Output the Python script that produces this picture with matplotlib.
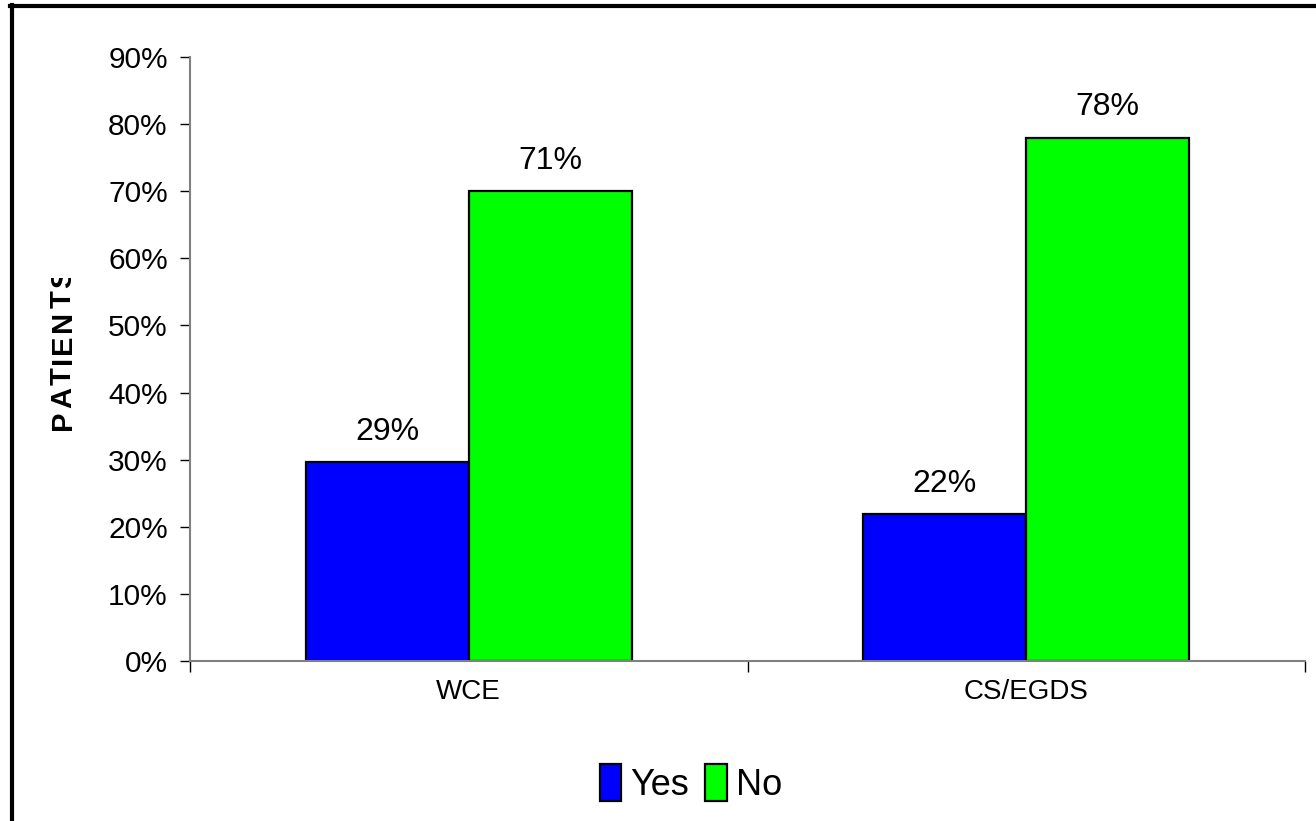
import numpy as np
import matplotlib
matplotlib.use('Agg')
import matplotlib.pyplot as plt
from matplotlib.lines import Line2D
from matplotlib.patches import Rectangle
from matplotlib.ticker import FuncFormatter

# data
categories = ['WCE', 'CS/EGDS']
series_names = ['Yes', 'No']
yes_vals = [29.6, 21.9]
no_vals = [70.0, 78.0]
yes_labels = ['29%', '22%']
no_labels = ['71%', '78%']
colors = ['#0000FF', '#00FF00']
ylabel = 'PATIENTS'

plt.rcParams['font.family'] = ['Liberation Sans', 'DejaVu Sans']

W, H = 1316, 821
fig = plt.figure(figsize=(W/100, H/100), dpi=100)
ax = fig.add_axes([190/W, 1 - 661/H, (1305 - 190)/W, (661 - 57)/H])

x = np.arange(len(categories))
w = 0.292
b1 = ax.bar(x - w/2, yes_vals, w, color=colors[0], edgecolor='black', linewidth=1.6, label=series_names[0])
b2 = ax.bar(x + w/2, no_vals, w, color=colors[1], edgecolor='black', linewidth=1.6, label=series_names[1])

for bars, labs in ((b1, yes_labels), (b2, no_labels)):
    for r, t in zip(bars, labs):
        ax.annotate(t, (r.get_x() + r.get_width()/2, r.get_height()),
                    xytext=(0, 11), textcoords='offset points',
                    ha='center', va='bottom', fontsize=23)

ax.set_ylim(0, 90)
ax.set_yticks(np.arange(0, 91, 10))
ax.yaxis.set_major_formatter(FuncFormatter(lambda v, p: '%d%%' % v))
ax.tick_params(axis='y', labelsize=21.5, length=7, width=1, color='black', direction='out', pad=9)

ax.set_xlim(-0.5, len(categories) - 0.5)
ax.set_xticks(np.arange(-0.5, len(categories), 1.0))
ax.set_xticklabels([])
ax.set_xticks(x, minor=True)
ax.set_xticklabels(categories, minor=True)
ax.tick_params(axis='x', which='major', length=8, width=1, color='black', direction='out')
ax.tick_params(axis='x', which='minor', length=0, labelsize=20, pad=13)

for s in ('top', 'right'):
    ax.spines[s].set_visible(False)
for s in ('left', 'bottom'):
    ax.spines[s].set_color('#808080')
    ax.spines[s].set_linewidth(1.5)

# y label: spaced-out bold letters, cut off at the top like the original
renderer = fig.canvas.get_renderer()
ypos = H - 430
for ch in ylabel:
    t = fig.text(63/W, ypos/H, ch, rotation=90, ha='center', va='bottom',
                 fontsize=21, fontweight='bold')
    bb = t.get_window_extent(renderer)
    ypos += bb.height + 2.5
fig.add_artist(Rectangle((30/W, 1 - 278/H), 65/W, (278 - 12)/H, transform=fig.transFigure,
                         facecolor='white', edgecolor='none', zorder=10))

fig.legend(loc='center', bbox_to_anchor=(0.525, 0.046), ncol=2, frameon=False,
           handlelength=0.6, handleheight=1.2, handletextpad=0.25, columnspacing=0.45,
           prop={'size': 26})

# outer frame (left and top only)
fig.add_artist(Line2D([11.5/W, 11.5/W], [0, 1 - 5/H], transform=fig.transFigure,
                      color='black', linewidth=3, zorder=11))
fig.add_artist(Line2D([10/W, 1], [1 - 6.5/H, 1 - 6.5/H], transform=fig.transFigure,
                      color='black', linewidth=3, zorder=11))

fig.savefig('out.png', dpi=100)
